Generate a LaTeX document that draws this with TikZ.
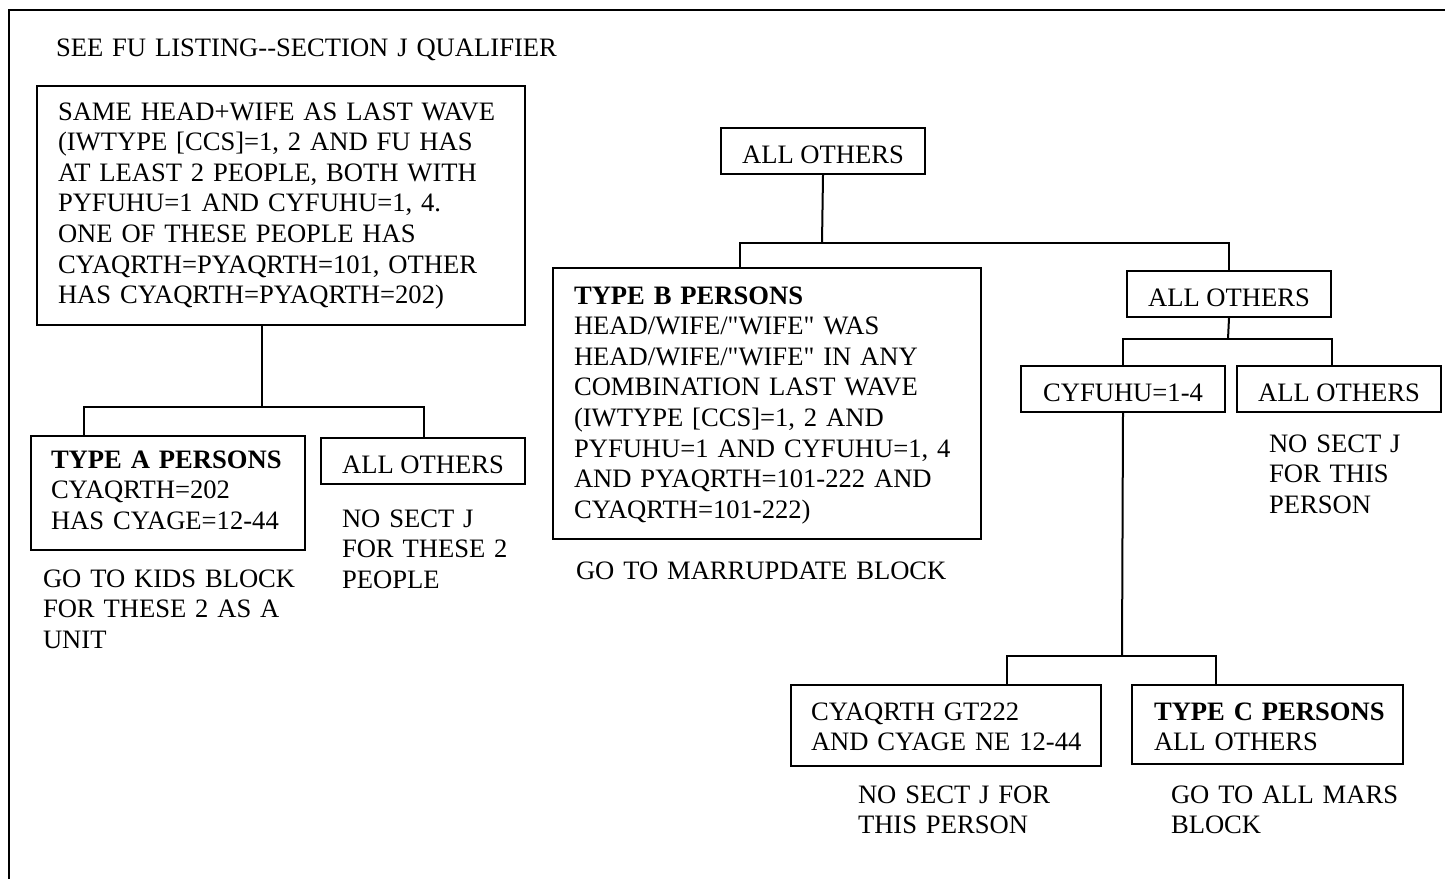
\documentclass[tikz,border=0pt]{standalone}
\usepackage{fontspec}
\newfontfamily\lsf{Liberation Serif}
\hyphenpenalty=10000\relax
\begin{document}
\begin{tikzpicture}[x=1pt,y=-1pt,line width=2pt,
  bx/.style={draw,rectangle,inner sep=0pt,anchor=north west},
  tx/.style={inner sep=0pt,anchor=base west,text width=700pt,align=left,font=\lsf\fontsize{26.6}{30.6}\selectfont},
  ob/.style={draw,rectangle,inner sep=0pt,anchor=north west,minimum width=204pt,minimum height=46pt,text height=24pt,text depth=0pt,font=\lsf\fontsize{26.6}{30.6}\selectfont}]
\clip (0,0) rectangle (1445,878);
\draw (8.6,9.6) rectangle (1470,900);

\node[tx] (title) at (55,56) {SEE FU LISTING--SECTION J QUALIFIER};

% left branch
\node[bx,minimum width=488pt,minimum height=239pt] (A) at (36,85) {};
\node[tx] (At) at (57,120) {SAME HEAD+WIFE AS LAST WAVE\\(IWTYPE [CCS]=1, 2 AND FU HAS\\AT LEAST 2 PEOPLE, BOTH WITH\\PYFUHU=1 AND CYFUHU=1, 4.\\ONE OF THESE PEOPLE HAS\\CYAQRTH=PYAQRTH=101, OTHER\\HAS CYAQRTH=PYAQRTH=202)};
\node[bx,minimum width=274pt,minimum height=114pt] (TA) at (30,435) {};
\node[tx] (TAt) at (50,468) {\textbf{TYPE A PERSONS}\\CYAQRTH=202\\HAS CYAGE=12-44};
\node[ob] (AO1) at (320,437) {ALL OTHERS};
\node[tx] (l1) at (341,527) {NO SECT J\\FOR THESE 2\\PEOPLE};
\node[tx] (l2) at (42,587) {GO TO KIDS BLOCK\\FOR THESE 2 AS A\\UNIT};

% right branch
\node[ob] (O1) at (720,127) {ALL OTHERS};
\node[bx,minimum width=428pt,minimum height=271pt] (B) at (552,267) {};
\node[tx] (Bt) at (573,304) {\textbf{TYPE B PERSONS}\\HEAD/WIFE/"WIFE" WAS\\HEAD/WIFE/"WIFE" IN ANY\\COMBINATION LAST WAVE\\(IWTYPE [CCS]=1, 2 AND\\PYFUHU=1 AND CYFUHU=1, 4\\AND PYAQRTH=101-222 AND\\CYAQRTH=101-222)};
\node[tx] (l3) at (575,579) {GO TO MARRUPDATE BLOCK};
\node[ob] (O2) at (1126,270) {ALL OTHERS};
\node[ob] (CY) at (1020,365) {CYFUHU=1-4};
\node[ob] (AO3) at (1236,365) {ALL OTHERS};
\node[tx] (l4) at (1268,452) {NO SECT J\\FOR THIS\\PERSON};
\node[bx,minimum width=310pt,minimum height=81pt] (L) at (790,684) {};
\node[tx] (Lt) at (810,720) {CYAQRTH GT222\\AND CYAGE NE 12-44};
\node[bx,minimum width=271pt,minimum height=79pt] (C) at (1131,684) {};
\node[tx] (Ct) at (1153,720) {\textbf{TYPE C PERSONS}\\ALL OTHERS};
\node[tx] (l5) at (857,803) {NO SECT J FOR\\THIS PERSON};
\node[tx] (l6) at (1170,803) {GO TO ALL MARS\\BLOCK};

% connectors
\coordinate (hA) at (262,407);
\draw (hA |- A.south) -- (hA);
\draw ([xshift=54pt]TA.north west) |- (hA) -| ([xshift=104pt]AO1.north west);

\coordinate (h1) at (822,243);
\draw (O1.south) -- (h1);
\draw ([xshift=188pt]B.north west) |- (h1) -| (O2.north);

\coordinate (h2) at (1228,339);
\draw (O2.south) -- (h2);
\draw (CY.north) |- (h2) -| ([xshift=96pt]AO3.north west);

\coordinate (h3) at (1122,656);
\draw (CY.south) -- (h3);
\draw ([xshift=217pt]L.north west) |- (h3) -| ([xshift=85pt]C.north west);
\end{tikzpicture}
\end{document}
